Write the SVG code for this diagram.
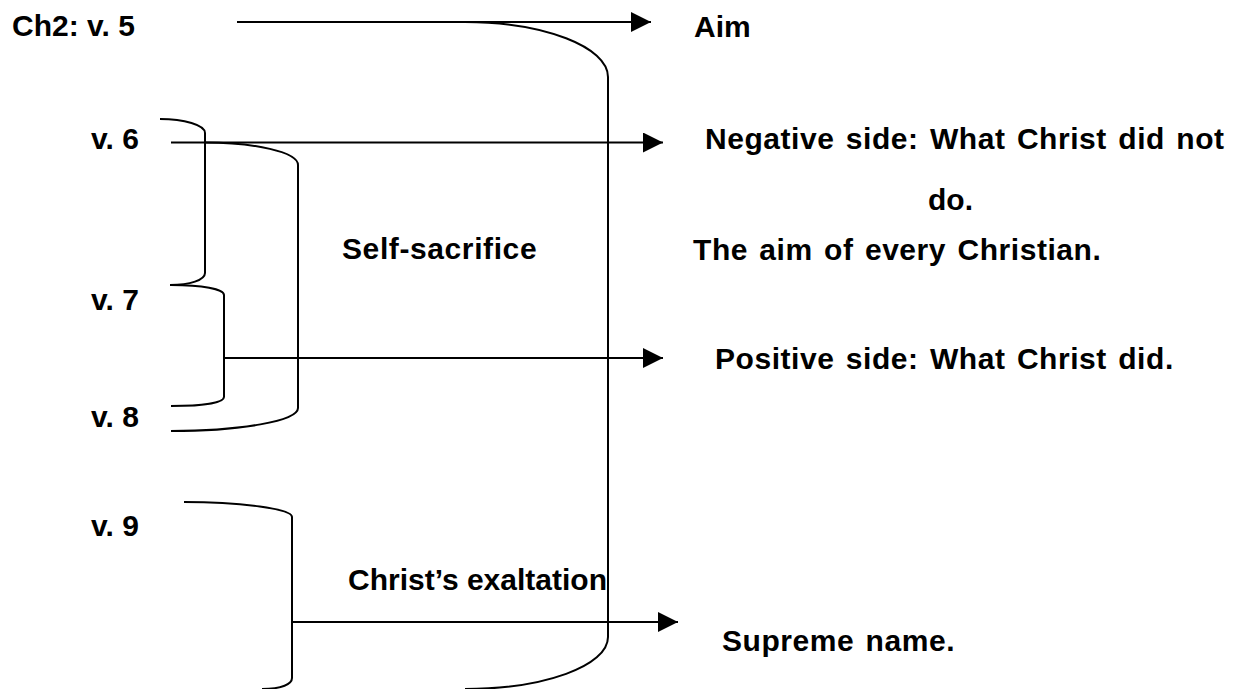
<svg xmlns="http://www.w3.org/2000/svg" width="1233" height="689" viewBox="0 0 1233 689">
<defs>
<marker id="ah" viewBox="0 0 20 20" refX="20" refY="10" markerWidth="20" markerHeight="20" markerUnits="userSpaceOnUse" orient="auto">
<path d="M0,0 L20,10 L0,20 Z" fill="#000"/>
</marker>
<style>
text{font-family:"Liberation Sans",Arial,sans-serif;font-weight:bold;font-size:30px;fill:#000}
.ws{letter-spacing:0.55px;word-spacing:2.5px}
.ln{fill:none;stroke:#000;stroke-width:2}
</style>
</defs>
<rect width="1233" height="689" fill="#fff"/>
<g id="connectors">
<path class="ln" d="M237,22 H651" marker-end="url(#ah)"/>
<path class="ln" d="M171,142.5 H663" marker-end="url(#ah)"/>
<path class="ln" d="M224,358 H663" marker-end="url(#ah)"/>
<path class="ln" d="M292,622 H678" marker-end="url(#ah)"/>
<path class="ln" d="M465,22 C544,22 608,47 608,77 L608,637 C608,666 544,689 465,689"/>
<path class="ln" d="M160,119 C184,119 205,125 205,133 L205,273 C205,280 190,285 170,285"/>
<path class="ln" d="M205,142.5 C254,142.5 298,152 298,165 L298,408 C298,421 240,431 171,431"/>
<path class="ln" d="M171,285 C202,285 224,289 224,295 L224,397 C224,403 202,406 171,406"/>
<path class="ln" d="M184,502 C242,502 292,509 292,517 L292,678 C292,684 282,689 262,689"/>
</g>
<g id="n-ch2v5"><text x="12" y="36">Ch2: v. 5</text></g>
<g id="n-aim"><text x="694" y="37">Aim</text></g>
<g id="n-v6"><text x="91" y="149">v. 6</text></g>
<g id="n-negative"><text class="ws" x="705" y="149">Negative side: What Christ did not</text><text x="928" y="210">do.</text></g>
<g id="n-selfsacrifice"><text x="342" y="259" style="letter-spacing:0.6px">Self-sacrifice</text></g>
<g id="n-aimevery"><text class="ws" x="693" y="260">The aim of every Christian.</text></g>
<g id="n-v7"><text x="91" y="310">v. 7</text></g>
<g id="n-positive"><text class="ws" x="715" y="369">Positive side: What Christ did.</text></g>
<g id="n-v8"><text x="91" y="427">v. 8</text></g>
<g id="n-v9"><text x="91" y="536">v. 9</text></g>
<g id="n-exaltation"><text x="348" y="590">Christ’s exaltation</text></g>
<g id="n-supreme"><text class="ws" x="722" y="651">Supreme name.</text></g>
</svg>
